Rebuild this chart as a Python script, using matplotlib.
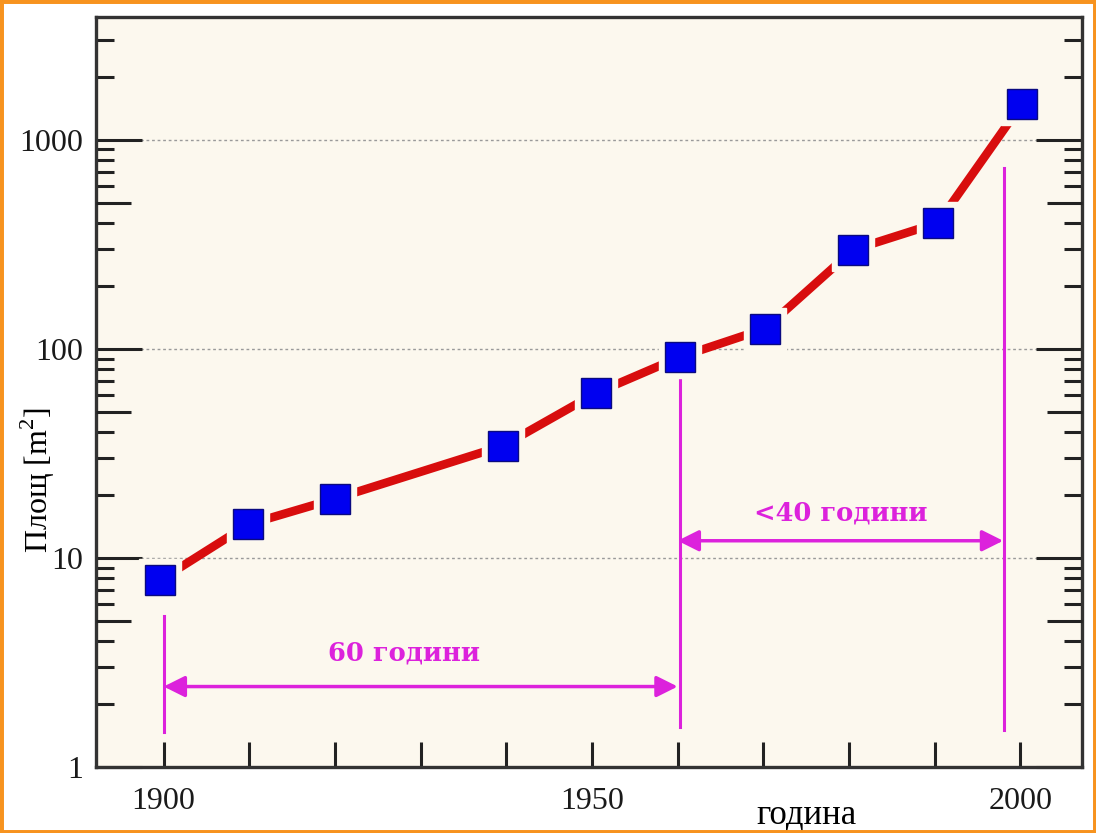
import matplotlib.pyplot as plt
from matplotlib.patches import Rectangle
from matplotlib.ticker import FixedLocator, LogLocator, NullFormatter, FixedFormatter, NullLocator

plt.rcParams['mathtext.fontset'] = 'custom'
plt.rcParams['mathtext.rm'] = 'Liberation Serif'

# area vs year
years = [1899.6, 1909.9, 1920, 1939.6, 1950.5, 1960.3, 1970.2, 1980.5, 1990.4, 2000.2]
area = [7.85, 14.5, 19.2, 34.4, 61.6, 91.6, 125, 298, 401, 1487]

# annotation spans
span_years = [(1900, 1960), (1960, 1998)]
span_labels = ['60 години', '<40 години']
span_arrow_y = [2.43, 12.1]
span_text_xy = [(1928, 3.5), (1979, 16.4)]
guide_x = [1900, 1960.3, 1998.1]
guide_top = [5.3, 72.6, 735]
guide_bottom = [1.47, 1.55, 1.5]

xtick_major = [1900, 1950, 2000]
xtick_minor = [1910, 1920, 1930, 1940, 1960, 1970, 1980, 1990]
ytick_major = [1, 10, 100, 1000]
ytick_mid = [5, 50, 500]

bg = '#fcf8ee'
mag = '#dc22dc'
tk = '#222222'
serif = 'Liberation Serif'

fig = plt.figure(figsize=(10.96, 8.33), dpi=100)
fig.patch.set_facecolor('white')
ax = fig.add_axes([0.0876, 0.079, 0.8996, 0.901])
ax.set_facecolor(bg)
ax.set_yscale('log')
ax.set_xlim(1892.1, 2007.2)
ax.set_ylim(1, 3880)

# longer ticks at 5, 50, 500 via a twin axis (made first: twinx resets tick sides)
ax5 = ax.twinx()
ax5.set_yscale('log')
ax5.set_ylim(ax.get_ylim())
ax5.yaxis.set_major_locator(FixedLocator(ytick_mid))
ax5.yaxis.set_minor_locator(NullLocator())
ax5.yaxis.set_ticks_position('both')
ax5.tick_params(axis='y', which='major', direction='in', length=25, width=2.2,
                color=tk, left=True, right=True, labelleft=False, labelright=False)
for s in ax5.spines.values():
    s.set_visible(False)

# data line with gaps around the markers
ax.plot(years, area, color='#d80d0d', lw=6.2, solid_capstyle='round', zorder=3)
ax.plot(years, area, ls='none', marker='s', ms=30, color=bg, mec=bg, zorder=4)
ax.plot(years, area, ls='none', marker='s', ms=21, color='#0000f0', mec='#0a0a80',
        mew=1.0, zorder=5)

# magenta guides and arrows
for x, top, bot in zip(guide_x, guide_top, guide_bottom):
    ax.plot([x, x], [bot, top], color=mag, lw=2.2, zorder=2)
for (x0, x1), y, lab, (tx, ty) in zip(span_years, span_arrow_y, span_labels, span_text_xy):
    ax.annotate('', xy=(x1, y), xytext=(x0, y),
                arrowprops=dict(arrowstyle='<|-|>', color=mag, lw=2.5,
                                mutation_scale=32, shrinkA=0, shrinkB=0), zorder=2)
    ax.text(tx, ty, lab, color=mag, fontsize=18.5, family='DejaVu Serif', weight='bold',
            ha='center', va='center')

# grid at decades only
ax.yaxis.grid(True, which='major', color='#9a9a9a', ls=(0, (2, 2)), lw=1.0)
ax.set_axisbelow(True)

# ticks
ax.xaxis.set_major_locator(FixedLocator(xtick_major))
ax.xaxis.set_minor_locator(FixedLocator(xtick_minor))
ax.tick_params(axis='x', which='both', direction='in', length=18, width=2.2,
               color=tk, top=False, pad=14, labelsize=23)
ax.yaxis.set_major_locator(FixedLocator(ytick_major))
ax.yaxis.set_major_formatter(FixedFormatter([str(v) for v in ytick_major]))
ax.yaxis.set_minor_locator(LogLocator(base=10, subs=[2, 3, 4, 6, 7, 8, 9], numticks=20))
ax.yaxis.set_minor_formatter(NullFormatter())
ax.yaxis.set_ticks_position('both')
ax.tick_params(axis='y', which='major', direction='in', length=33, width=2.2,
               color=tk, left=True, right=True, labelleft=True, labelright=False,
               pad=9, labelsize=23)
ax.tick_params(axis='y', which='minor', direction='in', length=13, width=2.2,
               color=tk, left=True, right=True)
for lab in ax.get_xticklabels() + ax.get_yticklabels():
    lab.set_family(serif)
    lab.set_color('#1a1a1a')

for s in ax.spines.values():
    s.set_linewidth(2.4)
    s.set_color('#333333')

ax.text(-0.059, 0.382, 'Площ [m$^2$]', transform=ax.transAxes, rotation=90,
        ha='center', va='center', fontsize=23, family=serif)
ax.text(0.721, -0.064, 'година', transform=ax.transAxes, ha='center', va='center',
        fontsize=25, family=serif)

fig.add_artist(Rectangle((0, 0), 1, 1, transform=fig.transFigure, fill=False,
                         edgecolor='#f7931e', lw=5))

fig.savefig('out.png', dpi=100)
